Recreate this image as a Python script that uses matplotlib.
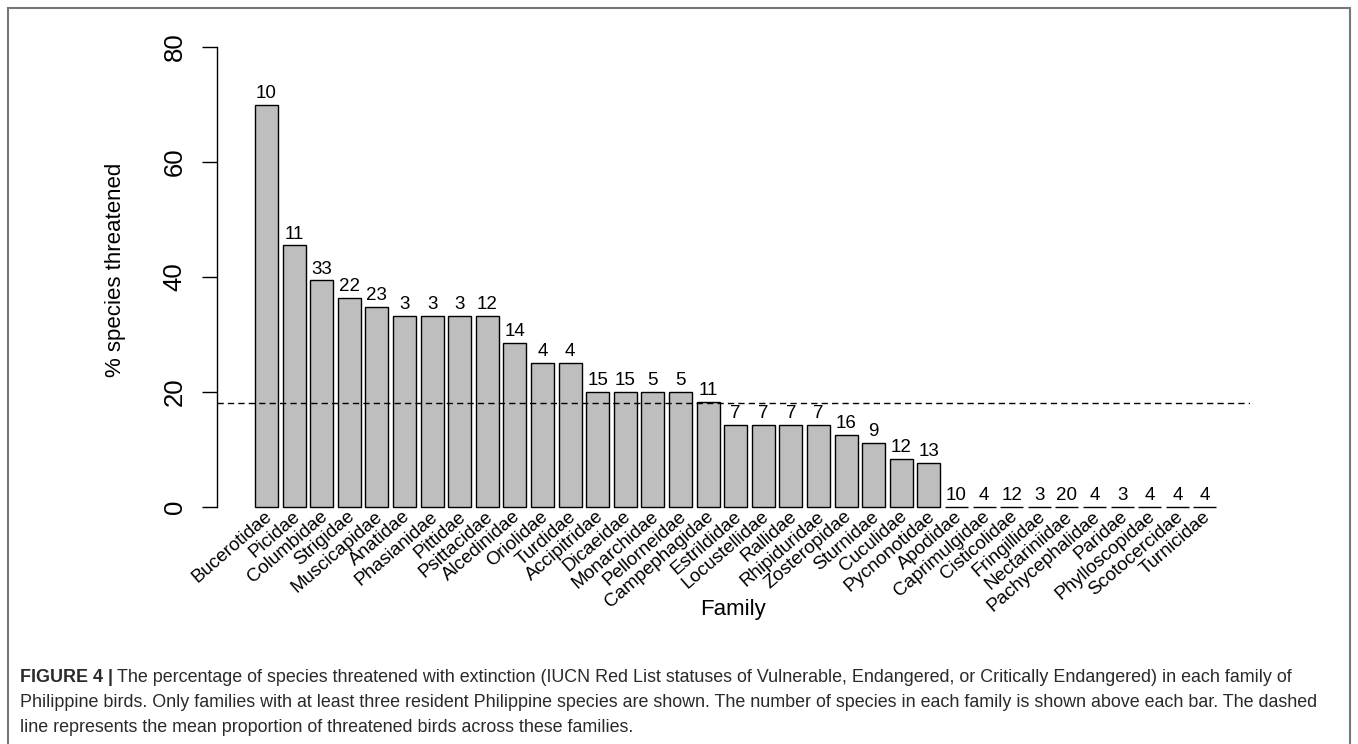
import numpy as np
import matplotlib
matplotlib.use("Agg")
import matplotlib.pyplot as plt
from matplotlib.patches import Rectangle

plt.rcParams['font.family'] = ['Liberation Sans', 'DejaVu Sans']

# families of Philippine birds, in plotted order
families = ["Bucerotidae", "Picidae", "Columbidae", "Strigidae", "Muscicapidae",
            "Anatidae", "Phasianidae", "Pittidae", "Psittacidae", "Alcedinidae",
            "Oriolidae", "Turdidae", "Accipitridae", "Dicaeidae", "Monarchidae",
            "Pellorneidae", "Campephagidae", "Estrildidae", "Locustellidae", "Rallidae",
            "Rhipiduridae", "Zosteropidae", "Sturnidae", "Cuculidae", "Pycnonotidae",
            "Apodidae", "Caprimulgidae", "Cisticolidae", "Fringillidae", "Nectariniidae",
            "Pachycephalidae", "Paridae", "Phylloscopidae", "Scotocercidae", "Turnicidae"]
# % species threatened
pct = [70.0, 45.5, 39.4, 36.4, 34.8,
       33.3, 33.3, 33.3, 33.3, 28.6,
       25.0, 25.0, 20.0, 20.0, 20.0,
       20.0, 18.2, 14.3, 14.3, 14.3,
       14.3, 12.5, 11.1, 8.3, 7.7,
       0, 0, 0, 0, 0,
       0, 0, 0, 0, 0]
# number of species in each family (labels above bars)
n_species = [10, 11, 33, 22, 23, 3, 3, 3, 12, 14, 4, 4, 15, 15, 5, 5, 11, 7, 7, 7,
             7, 16, 9, 12, 13, 10, 4, 12, 3, 20, 4, 3, 4, 4, 4]
mean_pct = 18.1

W, H = 1358, 744
fig = plt.figure(figsize=(W/100, H/100), dpi=100)
ax = fig.add_axes([217/W, 1-525.4/H, (1250-217)/W, (525.4-28.6)/H])

# R barplot style positions: width 1, space 0.2
x = 0.7 + 1.2*np.arange(len(families))
ax.bar(x, pct, width=1, color='#BEBEBE', edgecolor='black', linewidth=1.0)
ax.axhline(mean_pct, color='black', linewidth=1.0, linestyle=(0, (4.5, 3)))

for xi, p, n in zip(x, pct, n_species):
    ax.text(xi, p + 0.5, str(n), ha='center', va='bottom', fontsize=13.5)

for xi, name in zip(x, families):
    ax.text(xi + 0.15, -1.3, name, rotation=41, ha='right', va='center',
            rotation_mode='anchor', fontsize=13.5)

ax.set_xlim(-1.45, 43.46)
ax.set_ylim(-3.2, 83.2)
for s in ['top', 'right', 'bottom']:
    ax.spines[s].set_visible(False)
ax.spines['left'].set_bounds(0, 80)
ax.spines['left'].set_linewidth(1.0)
ax.set_xticks([])
ax.set_yticks([0, 20, 40, 60, 80])
ax.tick_params(axis='y', direction='out', length=10.8, width=1.0, pad=11, labelsize=18.5)
for lab in ax.get_yticklabels():
    lab.set_rotation(90)
    lab.set_va('center')

fig.text(116/W, 1-270/H, "% species threatened", rotation=90, ha='center', va='center', fontsize=16)
fig.text(733/W, 1-610/H, "Family", ha='center', va='center', fontsize=16)

# caption
cap_col = '#2a2a2a'
cap_fs = 12.9
lines = ["The percentage of species threatened with extinction (IUCN Red List statuses of Vulnerable, Endangered, or Critically Endangered) in each family of",
         "Philippine birds. Only families with at least three resident Philippine species are shown. The number of species in each family is shown above each bar. The dashed",
         "line represents the mean proportion of threatened birds across these families."]
bold = fig.text(20/W, 1-682/H, "FIGURE 4 |", fontweight='bold', fontsize=cap_fs,
                va='baseline', ha='left', color=cap_col)
fig.canvas.draw()
bb = bold.get_window_extent()
fig.text((bb.x1 + 4)/W, 1-682/H, lines[0], fontsize=cap_fs, va='baseline', ha='left', color=cap_col)
fig.text(20/W, 1-707/H, lines[1], fontsize=cap_fs, va='baseline', ha='left', color=cap_col)
fig.text(20/W, 1-732/H, lines[2], fontsize=cap_fs, va='baseline', ha='left', color=cap_col)

# outer frame (bottom edge is off the picture)
fig.add_artist(Rectangle((8/W, -0.05), (1350-8)/W, 1.05-8/H, transform=fig.transFigure,
                         fill=False, edgecolor='#777777', linewidth=1.5))

fig.savefig("out.png", dpi=100)
